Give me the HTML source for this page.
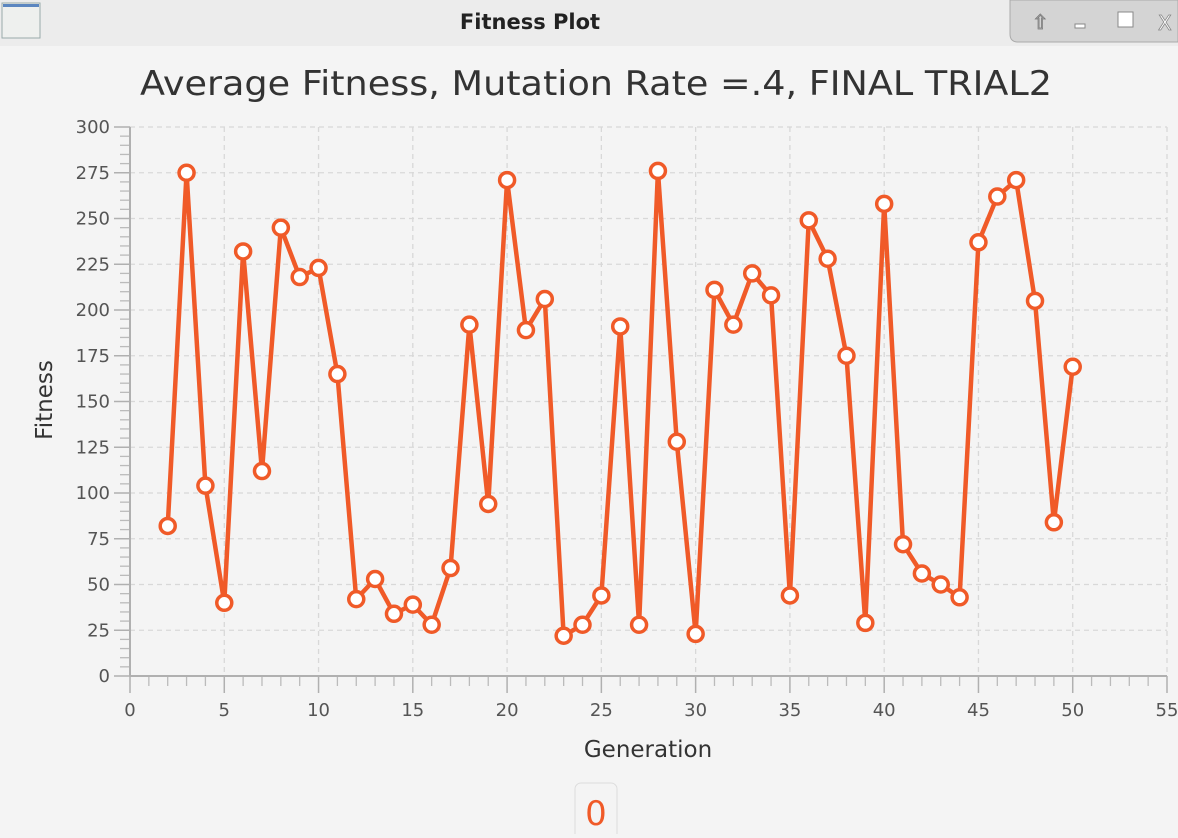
<!DOCTYPE html>
<html><head><meta charset="utf-8"><style>
html,body{margin:0;padding:0;background:#f4f4f4;}
body{width:1178px;height:834px;overflow:hidden;position:relative;font-family:"DejaVu Sans","Liberation Sans",sans-serif;}
</style></head><body>
<svg width="1178" height="834" viewBox="0 0 1178 834" xmlns="http://www.w3.org/2000/svg">
<rect x="0" y="0" width="1178" height="46" fill="#ececec"/>
<rect x="2" y="3" width="38" height="35" fill="#eef0ee" stroke="#9aa"/>
<rect x="3" y="4" width="36" height="3" fill="#5b86c0"/>
<text x="530" y="29" font-size="21" font-weight="bold" text-anchor="middle" fill="#222">Fitness Plot</text>
<path d="M1010 0 L1178 0 L1178 42 L1018 42 Q1010 42 1010 34 Z" fill="#d4d4d4" stroke="#aaa"/>
<text x="1032" y="29" font-size="20" fill="#fff" stroke="#777" stroke-width="0.8">⇧</text>
<rect x="1075" y="24" width="10" height="4" fill="#fff" stroke="#888"/>
<rect x="1118" y="12" width="15" height="15" fill="#fff" stroke="#888"/>
<text x="1158" y="30" font-size="20" fill="#fff" stroke="#888" stroke-width="0.8">X</text>
<text x="140" y="95" font-size="34" textLength="912" lengthAdjust="spacingAndGlyphs" fill="#333">Average Fitness, Mutation Rate =.4, FINAL TRIAL2</text>
<g id="grid"></g>
<g id="axes"></g>
<g id="series"></g>
<text x="648" y="757" font-size="23" text-anchor="middle" fill="#333">Generation</text>
<text transform="translate(52,400) rotate(-90)" font-size="23" text-anchor="middle" fill="#333">Fitness</text>
<rect x="575" y="783" width="42" height="60" rx="6" fill="#f4f4f4" stroke="#ddd"/>
<text x="596" y="825" font-size="34" text-anchor="middle" fill="#f05a28">0</text>
</svg>
<script>
const generations=[2,3,4,5,6,7,8,9,10,11,12,13,14,15,16,17,18,19,20,21,22,23,24,25,26,27,28,29,30,31,32,33,34,35,36,37,38,39,40,41,42,43,44,45,46,47,48,49,50];
const fitness=[82,275,104,40,232,112,245,218,223,165,42,53,34,39,28,59,192,94,271,189,206,22,28,44,191,28,276,128,23,211,192,220,208,44,249,228,175,29,258,72,56,50,43,237,262,271,205,84,169];
const xTicks=[0,5,10,15,20,25,30,35,40,45,50,55];
const yTicks=[0,25,50,75,100,125,150,175,200,225,250,275,300];
const NS="http://www.w3.org/2000/svg";
const X0=130,X1=1167,Y0=676,Y1=127;
const sx=v=>X0+(v-0)/(55-0)*(X1-X0);
const sy=v=>Y0-(v-0)/(300-0)*(Y0-Y1);
function mk(tag,attrs,parent){const e=document.createElementNS(NS,tag);for(const k in attrs)e.setAttribute(k,attrs[k]);parent.appendChild(e);return e;}
const grid=document.getElementById('grid'),axes=document.getElementById('axes'),series=document.getElementById('series');
xTicks.forEach(t=>{if(t>0){const l=mk('line',{x1:sx(t),x2:sx(t),y1:Y1,y2:Y0,stroke:'#d8d8d8','stroke-dasharray':'5,4','stroke-width':1.3},grid);

}
const tk=mk('line',{x1:sx(t),x2:sx(t),y1:Y0,y2:Y0+17,stroke:'#b0b0b0','stroke-width':1.5},axes);


const tx=mk('text',{x:sx(t),y:Y0+40,'font-size':18,'text-anchor':'middle',fill:'#555'},axes);tx.textContent=t;

});
for(let i=0;i<55;i++){if(i%5){const m=mk('line',{x1:sx(i),x2:sx(i),y1:Y0,y2:Y0+10,stroke:'#bbb','stroke-width':1.3},axes);

}}
yTicks.forEach((t,i)=>{if(t>0){const l=mk('line',{x1:X0,x2:X1,y1:sy(t),y2:sy(t),stroke:'#d8d8d8','stroke-dasharray':'5,4','stroke-width':1.3},grid);

}
const tk=mk('line',{x1:X0-16,x2:X0,y1:sy(t),y2:sy(t),stroke:'#b0b0b0','stroke-width':1.5},axes);


const tx=mk('text',{x:X0-20,y:sy(t)+6,'font-size':18,'text-anchor':'end',fill:'#555'},axes);tx.textContent=t;


if(i<yTicks.length-1){for(let k=1;k<5;k++){const m=mk('line',{x1:X0-10,x2:X0,y1:sy(t+k*5),y2:sy(t+k*5),stroke:'#bbb','stroke-width':1.3},axes);

}}});
const ax=mk('line',{x1:X0,x2:X1,y1:Y0,y2:Y0,stroke:'#b0b0b0','stroke-width':2},axes);


const ay=mk('line',{x1:X0,x2:X0,y1:Y1,y2:Y0,stroke:'#b0b0b0','stroke-width':2},axes);


const pts=generations.map((g,i)=>sx(g)+','+sy(fitness[i])).join(' ');
const pl=mk('polyline',{points:pts,fill:'none',stroke:'#f05a28','stroke-width':4.5,'stroke-linejoin':'round'},series);


generations.forEach((g,i)=>{const c=mk('circle',{cx:sx(g),cy:sy(fitness[i]),r:7.5,fill:'#fff',stroke:'#f05a28','stroke-width':3.5},series);

});
</script>
</body></html>
